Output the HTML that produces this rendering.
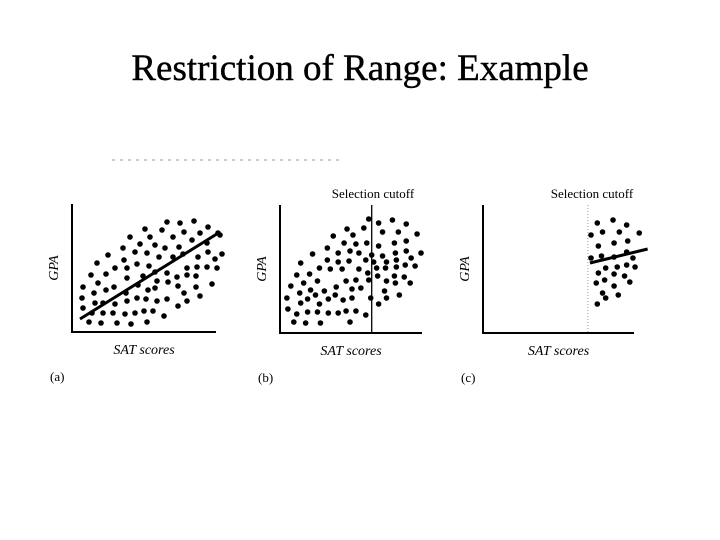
<!DOCTYPE html>
<html><head><meta charset="utf-8"><style>
html,body{margin:0;padding:0;background:#fff;}
body{width:720px;height:540px;overflow:hidden;position:relative;font-family:"Liberation Serif",serif;}
#title{position:absolute;left:0;top:47px;width:720px;text-align:center;font-size:37px;color:#000;-webkit-text-stroke:0.4px #000;}
svg{position:absolute;left:0;top:0;}
</style></head><body>
<div id="title">Restriction of Range: Example</div>
<svg id="chart" width="720" height="540"></svg>
<script>
// Panel data in axis units (SAT units along x, GPA units along y)
const aSat=[95,108,122,136,73,90,112,128,146,148,58,78,101,120,68,83,93,107,135,51,36,63,75,101,111,126,136,150,25,52,65,77,87,43,55,115,125,135,143,145,19,34,55,71,83,95,105,115,124,11,26,42,66,85,96,106,124,140,10,22,34,54,76,83,112,128,11,23,31,43,55,65,74,85,95,106,115,20,31,41,53,63,72,81,92,17,29,45,59,75];
const aGpa=[110,109,111,105,103,102,100,99,99,97,95,95,95,92,88,87,84,85,89,84,77,80,79,75,78,75,80,78,69,72,68,66,75,64,64,64,65,65,73,64,57,58,54,56,60,59,55,57,56,45,49,45,47,51,50,46,45,48,34,39,42,39,42,44,39,36,24,29,29,28,31,34,33,31,33,26,31,19,19,19,18,19,21,21,16,10,9,9,8,10];
const aLine=[[8,13],[148,100]];
const bSat=[90,100,114,128,68,85,104,120,139,74,54,65,77,88,100,116,128,48,59,71,80,93,104,117,128,143,33,21,48,59,70,87,95,108,118,133,40,51,63,80,89,98,107,118,127,137,17,30,90,99,108,116,24,38,67,77,117,126,132,11,31,45,57,73,82,106,20,36,7,28,40,49,56,64,73,92,108,121,21,100,8,17,28,38,49,59,67,77,87,14,26,41,71];
const bGpa=[114,110,113,109,104,105,101,101,99,98,97,90,89,90,87,90,92,85,80,82,80,78,77,80,82,80,79,70,73,71,72,73,71,71,73,75,65,64,64,64,60,65,65,66,68,67,58,59,53,57,52,57,50,52,52,53,50,56,50,47,43,42,46,44,45,42,40,38,35,34,29,34,38,33,35,35,35,38,30,29,24,19,21,21,20,20,22,22,18,11,10,10,11];
const bCutoff=93;
const cSat=[109,124,137,103,114,130,149,110,125,138,103,113,125,137,143,145,110,117,128,137,116,125,135,108,125,140,114,117,129,109];
const cGpa=[110,113,108,98,101,101,100,87,90,92,75,77,76,81,75,66,60,65,66,68,53,59,57,50,47,51,40,35,38,29];
const cLine=[[102,70],[157,84]];
const cCutoff=100;

const NS="http://www.w3.org/2000/svg";
const svg=document.getElementById('chart');
function mk(tag,attrs,parent){const e=document.createElementNS(NS,tag);for(const k in attrs)e.setAttribute(k,attrs[k]);(parent||svg).appendChild(e);return e;}
function panel(id,x0,y0,w,h,sat,gpa,line,cutoff,cutDotted,label,showCutLabel,cutLabelX){
  const g=mk('g',{});
  
  
  const xs=v=>x0+v*w/144, ys=v=>y0-v*h/128;
  const ax=mk('path',{d:`M${x0},${y0-h} L${x0},${y0} L${x0+w},${y0}`,fill:'none',stroke:'#000','stroke-width':2},g);
  
  
  if(cutoff!=null){
    const cl=mk('line',{x1:xs(cutoff),x2:xs(cutoff),y1:y0-h,y2:y0,stroke:cutDotted?'#999':'#000','stroke-width':cutDotted?1:1.3,'stroke-dasharray':cutDotted?'1,2':'none'},g);
    
    
  }
  for(let i=0;i<sat.length;i++){
    const c=mk('circle',{cx:xs(sat[i]),cy:ys(gpa[i]),r:2.8,fill:'#000'},g);
    
    
  }
  if(line){
    const l=mk('line',{x1:xs(line[0][0]),y1:ys(line[0][1]),x2:xs(line[1][0]),y2:ys(line[1][1]),stroke:'#000','stroke-width':3},g);
    
    
  }
  const yt=mk('text',{x:x0-14,y:y0-h/2,'font-family':'Liberation Serif, serif','font-style':'italic','font-size':14,'text-anchor':'middle',transform:`rotate(-90 ${x0-14} ${y0-h/2})`},g);
  yt.textContent='GPA';
  
  
  const xt=mk('text',{x:x0+w/2,y:y0+22,'font-family':'Liberation Serif, serif','font-style':'italic','font-size':14,'text-anchor':'middle'},g);
  xt.textContent='SAT scores';
  
  
  const lb=mk('text',{x:x0-22,y:y0+49,'font-family':'Liberation Serif, serif','font-size':13},g);
  lb.textContent=label;
  
  
  if(showCutLabel){
    const sl=mk('text',{x:cutLabelX,y:y0-h-7,'font-family':'Liberation Serif, serif','font-size':13,'text-anchor':'middle'},g);
    sl.textContent='Selection cutoff';
    
    
  }
}
panel('a',72,332,144,128,aSat,aGpa,aLine,null,false,'(a)',false,0);
panel('b',280,333,142,128,bSat,bGpa,null,bCutoff,false,'(b)',true,373);
panel('c',483,333,151,128,cSat,cGpa,cLine,cCutoff,true,'(c)',true,592);
const faint=mk('line',{x1:112,y1:160,x2:340,y2:160,stroke:'#bbb','stroke-width':1.5,'stroke-dasharray':'3,5'});


</script>
</body></html>
